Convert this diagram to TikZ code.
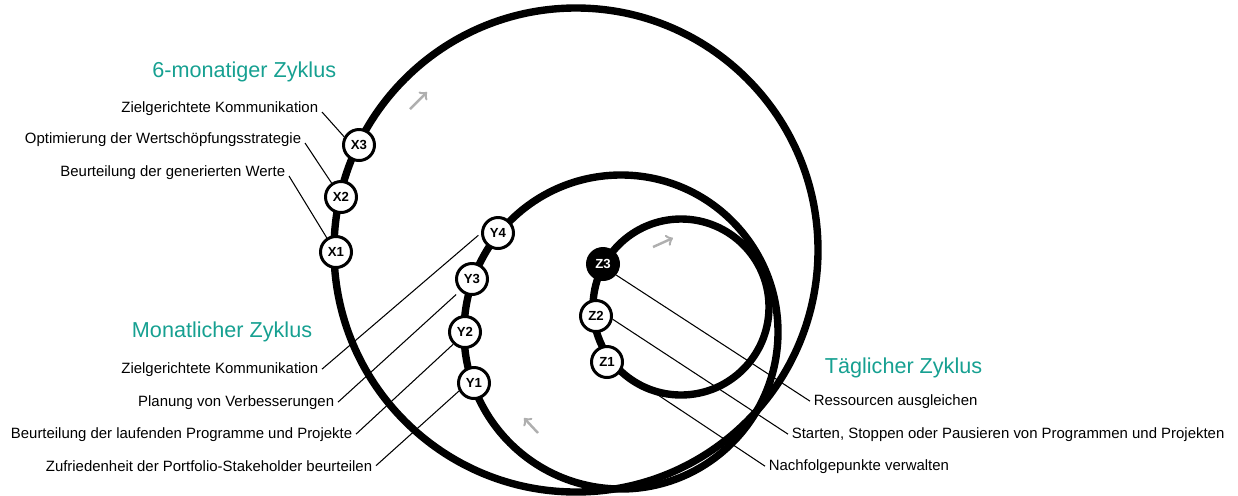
\documentclass[tikz,border=0pt]{standalone}
\usepackage{fontspec}
\setmainfont{Liberation Sans}
\usepackage{tikz}
\usetikzlibrary{arrows}
\usetikzlibrary{backgrounds}
\usetikzlibrary{positioning}

\definecolor{tuerkis}{RGB}{22,160,145}
\definecolor{hellgrau}{RGB}{175,175,175}

\begin{document}
\begin{tikzpicture}[x=0.02cm,y=-0.02cm,>=to,
    punkt/.style={draw, shape=circle, fill=white, line width=1.7pt, minimum size=0.62cm, inner sep=0pt, font=\fontsize{7.5}{8}\selectfont\bfseries},
    titel/.style={text=tuerkis, inner sep=2pt, font=\fontsize{12.3}{14}\selectfont},
    aufgabe/.style={inner sep=2pt, font=\fontsize{8.5}{10}\selectfont},
    bahn/.style={line width=4.2pt},
    leiter/.style={line width=0.6pt},
    richtung/.style={->, draw=hellgrau, line width=1.4pt}]
      \useasboundingbox (0,0) rectangle (1238,495);

      \node[punkt] (X1) at (336,252) {X1};
      \node[punkt] (X2) at (341,197) {X2};
      \node[punkt] (X3) at (359,145) {X3};

      \node[punkt] (Y1) at (474,383) {Y1};
      \node[punkt] (Y2) at (465,332) {Y2};
      \node[punkt] (Y3) at (472,279) {Y3};
      \node[punkt] (Y4) at (498,233) {Y4};

      \node[punkt] (Z1) at (607,362) {Z1};
      \node[punkt] (Z2) at (596,316) {Z2};
      \node[punkt, fill=black, text=white] (Z3) at (603,264) {Z3};

      \node[titel, anchor=base east] (XT) at (340,77) {6-monatiger Zyklus};
      \node[aufgabe, anchor=base east] (X3t) at (322,112) {Zielgerichtete Kommunikation};
      \node[aufgabe, anchor=base east] (X2t) at (305,143) {Optimierung der Wertschöpfungsstrategie};
      \node[aufgabe, anchor=base east] (X1t) at (289,176) {Beurteilung der generierten Werte};

      \node[titel, anchor=base east] (YT) at (316,337) {Monatlicher Zyklus};
      \node[aufgabe, anchor=base east] (Y4t) at (322,373) {Zielgerichtete Kommunikation};
      \node[aufgabe, anchor=base east] (Y3t) at (338,406) {Planung von Verbesserungen};
      \node[aufgabe, anchor=base east] (Y2t) at (356,438) {Beurteilung der laufenden Programme und Projekte};
      \node[aufgabe, anchor=base east] (Y1t) at (376,471) {Zufriedenheit der Portfolio-Stakeholder beurteilen};

      \node[titel, anchor=base west] (ZT) at (821,373) {Täglicher Zyklus};
      \node[aufgabe, anchor=base west] (Z3t) at (810,405) {Ressourcen ausgleichen};
      \node[aufgabe, anchor=base west] (Z2t) at (788,438) {Starten, Stoppen oder Pausieren von Programmen und Projekten};
      \node[aufgabe, anchor=base west] (Z1t) at (765,470) {Nachfolgepunkte verwalten};

      \begin{scope}[on background layer]
        \draw[leiter] (X3t.base east) -- (X3.151);
        \draw[leiter] (X2t.base east) -- (X2.124);
        \draw[leiter] (X1t.base east) -- (X1.123);
        \draw[leiter, shorten >=2pt] (Y4t.east) -- (Y4.180);
        \draw[leiter, shorten >=3pt] (Y3t.east) -- (Y3.225);
        \draw[leiter] (Y2t.east) -- (Y2.226);
        \draw[leiter] (Y1t.east) -- (Y1.208);
        \draw[leiter] (Z3.320) -- (Z3t.west);
        \draw[leiter] (Z2.349) -- (Z2t.west);
        \draw[leiter] (Z1.329) -- (Z1t.west);

        \draw[bahn] (576,250) circle [radius=242];
        \draw[bahn] (621,332) circle [radius=157];
        \draw[bahn] (681,307) circle [radius=88];
      \end{scope}

      \draw[richtung] (410,109) -- (427,92);
      \draw[richtung] (653,247) -- (673,238);
      \draw[richtung] (538,433) -- (524,418);
\end{tikzpicture}
\end{document}
